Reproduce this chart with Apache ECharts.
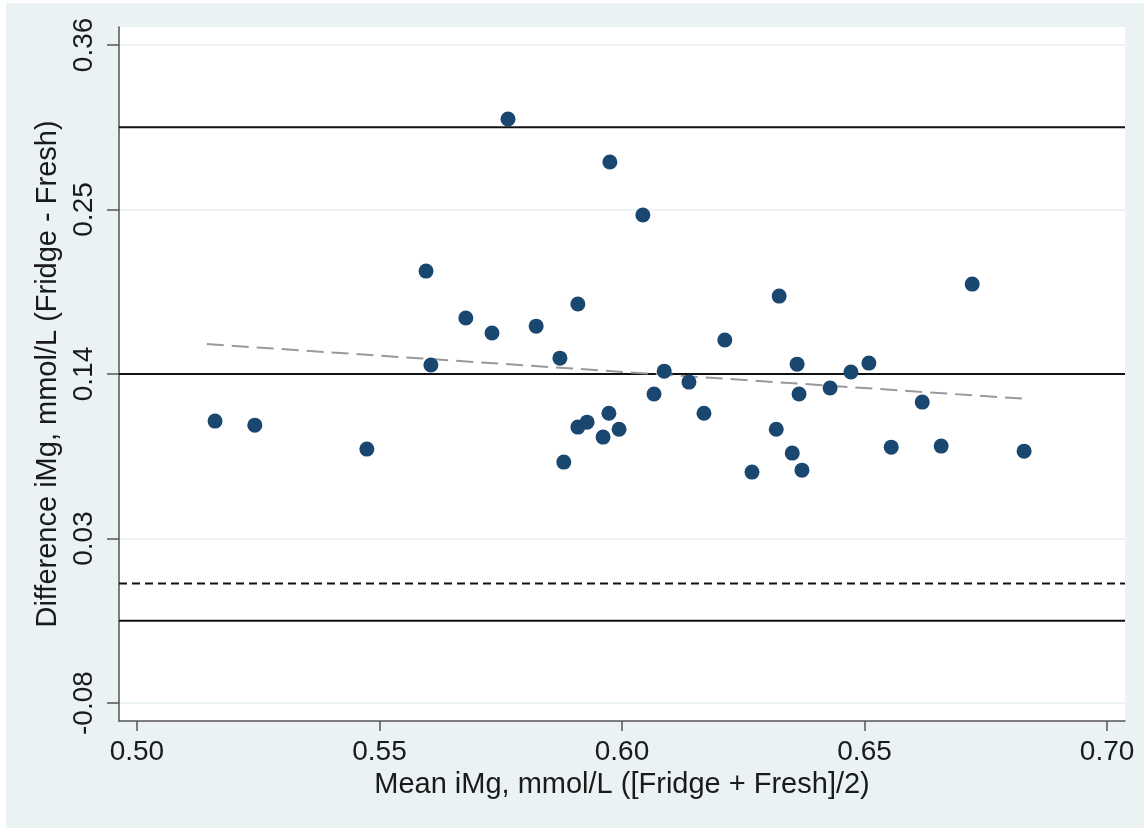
<!DOCTYPE html>
<html>
<head>
<meta charset="utf-8">
<script src="https://cdn.jsdelivr.net/npm/echarts@6/dist/echarts.min.js"></script>
<style>
  html, body { margin: 0; padding: 0; background: #fff; }
  #chart { position: absolute; left: 6px; top: 3px; width: 1138px; height: 825px; }
</style>
</head>
<body>
<div id="chart"></div>
<script>
// mean iMg (x) and difference iMg (y)
const meanVals = [
  0.5161, 0.5243, 0.5474, 0.5596, 0.5606, 0.5678, 0.5732, 0.5765, 0.5823, 0.5872,
  0.5880, 0.5909, 0.5909, 0.5928, 0.5961, 0.5973, 0.5975, 0.5994, 0.6043, 0.6066,
  0.6087, 0.6138, 0.6169, 0.6212, 0.6268, 0.6318, 0.6324, 0.6351, 0.6361, 0.6365,
  0.6371, 0.6429, 0.6472, 0.6509, 0.6555, 0.6619, 0.6658, 0.6722, 0.6829
]
const diffVals = [
  0.1085, 0.1058, 0.0898, 0.2088, 0.1460, 0.1774, 0.1674, 0.3105, 0.1720, 0.1506,
  0.0811, 0.1045, 0.1868, 0.1078, 0.0978, 0.1138, 0.2817, 0.1031, 0.2463, 0.1266,
  0.1419, 0.1346, 0.1138, 0.1627, 0.0744, 0.1031, 0.1921, 0.0871, 0.1466, 0.1266,
  0.0757, 0.1306, 0.1413, 0.1473, 0.0911, 0.1212, 0.0918, 0.2001, 0.0884
]
const yTicks = [-0.08, 0.03, 0.14, 0.25, 0.36]
const xTicks = [0.50, 0.55, 0.60, 0.65, 0.70]

// limits of agreement, mean difference, zero line
const upperLoA = 0.305
const meanDiff = 0.14
const lowerLoA = -0.025
const zeroLine = 0
// fitted regression line end points
const fitX = [0.5144, 0.6841]
const fitY = [0.160, 0.1232]

const xMin = 0.4963
const xMax = 0.7037

const chart = echarts.init(document.getElementById('chart'))
const font = 'Liberation Sans, Arial, sans-serif'

// horizontal reference line across the whole plot
const hLine = (y, style) => ({
  type: 'line',
  data: [[xMin, y], [xMax, y]],
  symbol: 'none', silent: true,
  lineStyle: style
})

const option = {
  backgroundColor: '#eaf2f3',
  animation: false,
  grid: {
    left: 113, right: 19, top: 24, bottom: 107,
    show: true, backgroundColor: '#ffffff', borderWidth: 0
  },
  xAxis: {
    type: 'value',
    min: xMin, max: xMax,
    name: 'Mean iMg, mmol/L ([Fridge + Fresh]/2)',
    nameLocation: 'middle', nameGap: 45,
    nameTextStyle: { fontFamily: font, fontSize: 29, color: '#1a1a1a' },
    axisLine: { onZero: false, lineStyle: { color: '#555', width: 1.5 } },
    axisTick: { length: 10, lineStyle: { color: '#555', width: 1.5 }, customValues: xTicks },
    axisLabel: {
      fontFamily: font, fontSize: 28, color: '#1a1a1a', margin: 17,
      customValues: xTicks, formatter: v => v.toFixed(2)
    },
    splitLine: { show: false }
  },
  yAxis: {
    type: 'value',
    min: -0.092, max: 0.372,
    name: 'Difference iMg, mmol/L (Fridge - Fresh)',
    nameLocation: 'middle', nameGap: 51, nameRotate: 90,
    nameTextStyle: { fontFamily: font, fontSize: 29, color: '#1a1a1a' },
    axisLine: { show: true, onZero: false, lineStyle: { color: '#555', width: 1.5 } },
    axisTick: { show: true, length: 12, lineStyle: { color: '#555', width: 1.5 }, customValues: yTicks },
    axisLabel: {
      fontFamily: font, fontSize: 28, color: '#1a1a1a', rotate: 90, margin: 21,
      customValues: yTicks, formatter: v => v.toFixed(2),
      align: 'center', verticalAlign: 'bottom'
    },
    splitLine: { show: true, lineStyle: { color: '#eaf2f3', width: 2 } }
  },
  series: [
    hLine(upperLoA, { color: '#111', width: 2 }),
    hLine(meanDiff, { color: '#111', width: 2 }),
    hLine(lowerLoA, { color: '#111', width: 2 }),
    hLine(zeroLine, { color: '#111', width: 2, type: [8, 5] }),
    {
      type: 'line',
      data: fitX.map((x, i) => [x, fitY[i]]),
      symbol: 'none', silent: true,
      lineStyle: { color: '#999', width: 2, type: [17, 8] }
    },
    {
      type: 'scatter',
      data: meanVals.map((x, i) => [x, diffVals[i]]),
      symbolSize: 15,
      itemStyle: { color: '#1a476f', opacity: 1 },
      z: 5
    }
  ]
}

chart.setOption(option)
</script>
</body>
</html>
